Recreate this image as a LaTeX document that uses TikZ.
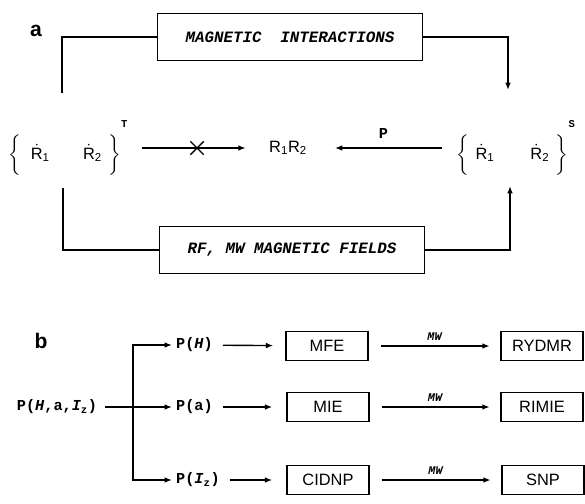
\documentclass[tikz,border=0pt]{standalone}
\usepackage{amsmath}
\usepackage{fontspec}
\setmainfont{Liberation Sans}
\setmonofont{Liberation Mono}
\usetikzlibrary{arrows.meta,positioning,shapes.misc}

\newcommand{\radR}[1]{$\dot{\text{R}}_{\text{#1}}$}

\begin{document}
\begin{tikzpicture}[
    x=0.3mm, y=-0.3mm,
    font=\fontsize{14}{16}\selectfont,
    fieldbox/.style={
        draw,
        line width=1.2pt,
        minimum width=79.4mm,
        minimum height=14mm,
        font=\ttfamily\bfseries\itshape\fontsize{13.5}{15}\selectfont
    },
    effbox/.style={
        draw,
        line width=1.2pt,
        minimum width=24.6mm,
        minimum height=8.7mm
    },
    prob/.style={font=\ttfamily\bfseries\fontsize{13}{15}\selectfont},
    panel/.style={font=\bfseries\fontsize{18}{20}\selectfont},
    link/.style={line width=1.2pt},
    arrow/.style={-{Latex[length=2.2mm,width=1.7mm]}, line width=1.2pt}
]
\useasboundingbox (0,0) rectangle (585,503);

% panel a
\node[panel] (laba) at (36,31) {a};
\node[fieldbox] (magint) at (290,37) {MAGNETIC\ \ INTERACTIONS};
\node[fieldbox] (rfmw) at (292,250) {RF, MW MAGNETIC FIELDS};

\node[anchor=west, inner sep=0pt] (radT) at (8,148)
    {$\bigg\{$\hspace{3mm}\radR{1}\hspace{10mm}\radR{2}\hspace{2mm}$\bigg\}$\raisebox{9.5mm}{\ttfamily\bfseries\small T}};
\node (rr) at (288,148) {R\textsubscript{1}R\textsubscript{2}};
\node[anchor=west, inner sep=0pt] (radS) at (456,148)
    {$\bigg\{$\hspace{2mm}\radR{1}\hspace{10mm}\,\radR{2}\hspace{2mm}$\bigg\}$\raisebox{9.5mm}{\ttfamily\bfseries\small S}};

\coordinate (tl) at (62,93);
\coordinate (tr) at (508,90);
\coordinate (bl) at (63,188);
\coordinate (br) at (510,186);

\draw[link] (magint.west) -| (tl);
\draw[arrow] (magint.east) -| (tr);
\draw[link] (bl) |- (rfmw.west);
\draw[arrow] (rfmw.east) -| (br);

\draw[arrow, shorten <=4.2mm, shorten >=5.8mm] (radT.east) -- (rr.west);
\node[cross out, draw, line width=1.2pt, minimum size=3.6mm, inner sep=0pt, fill=white] (block) at (197,148) {};
\draw[arrow, shorten <=4.2mm, shorten >=7.2mm] (radS.west) -- (rr.east)
    node[midway, above=1.5mm, prob] {P};

% panel b
\node[panel] (labb) at (41,341) {b};
\node[prob] (phai) at (57,407) {P(\textit{H},a,\textit{I}\textsubscript{z})};
\coordinate (fork) at (133,407);

\node[prob, anchor=west] (ph) at (172,345) {P(\textit{H})};
\node[prob, anchor=west] (pa) at (172,407) {P(a)};
\node[prob, anchor=west] (pi) at (172,480) {P(\textit{I}\textsubscript{z})};

\node[effbox] (mfe) at (327,346) {MFE};
\node[effbox] (mie) at (328,407) {MIE};
\node[effbox] (cidnp) at (328,480) {CIDNP};
\node[effbox] (rydmr) at (542,346) {RYDMR};
\node[effbox] (rimie) at (542,407) {RIMIE};
\node[effbox] (snp) at (543,480) {SNP};

\draw[link] (fork |- ph) -- (fork |- pi);
\draw[arrow, shorten <=1.2mm] (phai) -- (pa);
\draw[arrow] (fork) |- (ph);
\draw[arrow] (fork) |- (pi);

\draw[arrow, shorten <=1.8mm, shorten >=3.6mm] (ph) -- (mfe);
\draw[arrow, shorten <=1.8mm, shorten >=4.2mm] (pa) -- (mie);
\draw[arrow, shorten <=1.8mm, shorten >=4.2mm] (pi) -- (cidnp);

\foreach \src/\dst in {mfe/rydmr, mie/rimie, cidnp/snp}{
    \draw[arrow, shorten <=3.6mm, shorten >=3.2mm] (\src) -- (\dst)
        node[midway, above=0.2mm, font=\ttfamily\bfseries\itshape\fontsize{10}{12}\selectfont] {MW};
}
\end{tikzpicture}
\end{document}
